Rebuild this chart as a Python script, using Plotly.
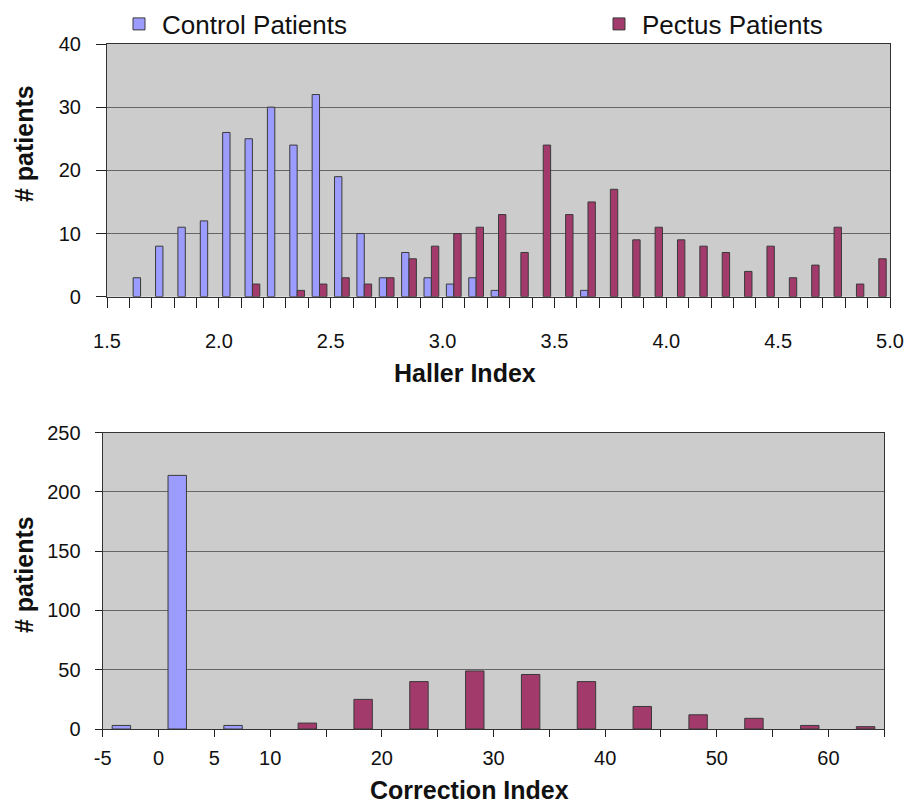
import plotly.graph_objects as go

# ---- Top chart: Haller index histogram (bins of 0.1, left edges) ----
haller_bins = [1.5, 1.6, 1.7, 1.8, 1.9, 2.0, 2.1, 2.2, 2.3, 2.4,
               2.5, 2.6, 2.7, 2.8, 2.9, 3.0, 3.1, 3.2, 3.3, 3.4,
               3.5, 3.6, 3.7, 3.8, 3.9, 4.0, 4.1, 4.2, 4.3, 4.4,
               4.5, 4.6, 4.7, 4.8, 4.9]
haller_control = [0, 3, 8, 11, 12, 26, 25, 30, 24, 32,
                  19, 10, 3, 7, 3, 2, 3, 1, 0, 0,
                  0, 1, 0, 0, 0, 0, 0, 0, 0, 0,
                  0, 0, 0, 0, 0]
haller_pectus = [0, 0, 0, 0, 0, 0, 2, 0, 1, 2,
                 3, 2, 3, 6, 8, 10, 11, 13, 7, 24,
                 13, 15, 17, 9, 11, 9, 8, 7, 4, 8,
                 3, 5, 11, 2, 6]
haller_ticks = [1.5, 2.0, 2.5, 3.0, 3.5, 4.0, 4.5, 5.0]
haller_ticktext = ["1.5", "2.0", "2.5", "3.0", "3.5", "4.0", "4.5", "5.0"]

# ---- Bottom chart: Correction index histogram (bins of 5, left edges) ----
corr_bins = [-5, 0, 5, 10, 15, 20, 25, 30, 35, 40, 45, 50, 55, 60]
corr_control = [3, 214, 3, 0, 0, 0, 0, 0, 0, 0, 0, 0, 0, 0]
corr_pectus = [0, 0, 0, 5, 25, 40, 49, 46, 40, 19, 12, 9, 3, 2]
corr_ticks = [-5, 0, 5, 10, 15, 20, 25, 30, 35, 40, 45, 50, 55, 60, 65]
corr_ticktext = ["-5", "0", "5", "10", "", "20", "", "30", "", "40", "", "50", "", "60", ""]

series_names = ["Control Patients", "Pectus Patients"]

W, H = 907, 804
FONT = "Liberation Sans, Arial, sans-serif"
C_CTRL = "#9c9cff"
C_PECT = "#a23a6c"
EDGE = "#3a3a3a"
BG = "#cccccc"
GRID = "#666666"


def px(x):
    return x / W


def py(y):
    return 1 - y / H


def nz(vals):
    return [v if v else None for v in vals]


hx = [b + 0.05 for b in haller_bins]
cx = [b + 2.5 for b in corr_bins]

fig = go.Figure()
fig.add_trace(go.Bar(x=hx, y=nz(haller_control), name=series_names[0],
                     marker=dict(color=C_CTRL, line=dict(color=EDGE, width=1)),
                     xaxis="x", yaxis="y", legend="legend", offsetgroup="c"))
fig.add_trace(go.Bar(x=hx, y=nz(haller_pectus), name=series_names[1],
                     marker=dict(color=C_PECT, line=dict(color=EDGE, width=1)),
                     xaxis="x", yaxis="y", legend="legend2", offsetgroup="p"))
fig.add_trace(go.Bar(x=cx, y=nz(corr_control), name=series_names[0],
                     marker=dict(color=C_CTRL, line=dict(color=EDGE, width=1)),
                     xaxis="x2", yaxis="y2", showlegend=False, offsetgroup="c"))
fig.add_trace(go.Bar(x=cx, y=nz(corr_pectus), name=series_names[1],
                     marker=dict(color=C_PECT, line=dict(color=EDGE, width=1)),
                     xaxis="x2", yaxis="y2", showlegend=False, offsetgroup="p"))

tickfont = dict(family=FONT, size=20, color="#111111")

fig.update_layout(
    template="none",
    width=W, height=H,
    margin=dict(l=0, r=0, t=0, b=0, autoexpand=False),
    paper_bgcolor="white",
    plot_bgcolor=BG,
    barmode="group",
    bargap=0.34,
    bargroupgap=0,
    font=dict(family=FONT, color="#111111"),
    xaxis=dict(domain=[px(107), px(890)], range=[1.5, 5.0], anchor="y", automargin=False,
               tickmode="array", tickvals=haller_ticks, ticktext=haller_ticktext,
               ticks="outside", ticklen=10, tickcolor="#222", tickfont=tickfont,
               ticklabelstandoff=16,
               minor=dict(tickmode="linear", tick0=1.5, dtick=0.1, ticks="outside", ticklen=10,
                          tickcolor="#222", showgrid=False),
               showline=True, linecolor="#333", linewidth=1.2, mirror=True,
               showgrid=False, zeroline=False),
    yaxis=dict(domain=[py(296.7), py(44)], range=[0, 40], anchor="x", automargin=False,
               tickmode="linear", tick0=0, dtick=10,
               ticks="outside", ticklen=10, tickcolor="#222", tickfont=tickfont,
               ticklabelstandoff=11,
               showline=True, linecolor="#333", linewidth=1.2, mirror=True,
               showgrid=True, gridcolor=GRID, gridwidth=1.2, zeroline=False),
    xaxis2=dict(domain=[px(102.7), px(884.3)], range=[-5, 65], anchor="y2", automargin=False,
                tickmode="array", tickvals=corr_ticks, ticktext=corr_ticktext,
                ticks="outside", ticklen=7, tickcolor="#222", tickfont=tickfont,
                ticklabelstandoff=4,
                showline=True, linecolor="#333", linewidth=1.2, mirror=True,
                showgrid=False, zeroline=False),
    yaxis2=dict(domain=[py(729), py(432.7)], range=[0, 250], anchor="x2", automargin=False,
                tickmode="linear", tick0=0, dtick=50,
                ticks="outside", ticklen=7, tickcolor="#222", tickfont=tickfont,
                ticklabelstandoff=10,
                showline=True, linecolor="#333", linewidth=1.2, mirror=True,
                showgrid=True, gridcolor=GRID, gridwidth=1.2, zeroline=False),
    legend=dict(x=px(116), y=py(24), xanchor="left", yanchor="middle", itemwidth=36,
                bgcolor="rgba(0,0,0,0)", borderwidth=0,
                font=dict(family=FONT, size=26, color="#111111")),
    legend2=dict(x=px(596), y=py(24), xanchor="left", yanchor="middle", itemwidth=36,
                 bgcolor="rgba(0,0,0,0)", borderwidth=0,
                 font=dict(family=FONT, size=26, color="#111111")),
)

title_font = dict(family=FONT, size=25, color="#111111")
annots = [
    dict(text="<b>Haller Index</b>", x=px(465), y=py(373)),
    dict(text="<b>Correction Index</b>", x=px(470), y=py(790)),
    dict(text="<b># patients</b>", x=px(24), y=py(144), textangle=-90),
    dict(text="<b># patients</b>", x=px(24), y=py(575), textangle=-90),
]
for a in annots:
    fig.add_annotation(xref="paper", yref="paper", xanchor="center", yanchor="middle",
                       showarrow=False, font=title_font, **a)

fig.write_html(
    "out.html",
    config={"displayModeBar": False},
    post_script="document.body.style.margin='0';document.body.style.overflow='hidden';",
)
